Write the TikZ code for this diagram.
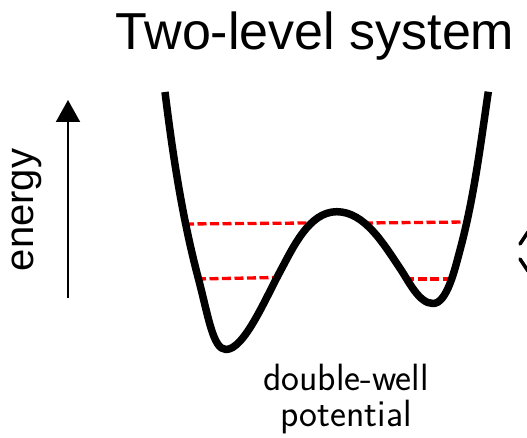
\documentclass[tikz,border=0pt]{standalone}
\usepackage{fontspec}
\newfontfamily\arialf{Liberation Sans}
\usetikzlibrary{arrows.meta}
\begin{document}
\begin{tikzpicture}[x=1pt,y=-1pt,
  level/.style={red, line width=3.3pt, dash pattern=on 9pt off 3.5pt},
  well/.style={black, line width=7.5pt, line join=round},
  axis/.style={black, line width=2pt, -{Triangle[width=24pt,length=22pt]}},
  titletext/.style={font=\arialf\fontsize{52}{60}\selectfont, inner sep=0pt, anchor=base},
  axistext/.style={font=\arialf\fontsize{40}{48}\selectfont, inner sep=0pt, anchor=base, rotate=90},
  captext/.style={font=\sffamily\fontsize{38}{44}\selectfont, inner sep=0pt, anchor=base}]
\useasboundingbox (0,0) rectangle (527,438);
\node[titletext] (title) at (315,50) {Two-level system};
\node[axistext] (energy) at (33,210) {energy};
\coordinate (abot) at (68,298);
\coordinate (atop) at (68,100);
\draw[axis] (abot) -- (atop);
% energy levels
\coordinate (u1) at (185,224);
\coordinate (u2) at (309,223);
\coordinate (u3) at (364,223);
\coordinate (u4) at (467,222);
\coordinate (l1) at (197,279);
\coordinate (l2) at (274,277.5);
\coordinate (l3) at (405,279);
\coordinate (l4) at (452,279);
\draw[level] (u1) -- (u2);
\draw[level] (u3) -- (u4);
\draw[level] (l1) -- (l2);
\draw[level] (l3) -- (l4);
% double-well potential
\draw[well] (165,92) .. controls (172.7,154.5) and (182.2,217.4) .. (198.3,278.3)
  .. controls (208.5,317) and (213,349.5) .. (226,349.5)
  .. controls (244,349.5) and (265,299.5) .. (280,271.7)
  .. controls (293,247.5) and (309.2,211.7) .. (336.7,211.7)
  .. controls (365,211.7) and (384.1,244.9) .. (400,268.3)
  .. controls (409,281.6) and (419,303.5) .. (433,303.5)
  .. controls (447,303.5) and (454.8,269.3) .. (460,250)
  .. controls (473.9,198.3) and (480.5,144.8) .. (488.3,91.7);
\node[captext] (cap1) at (346,390) {double-well};
\node[captext] (cap2) at (346,426) {potential};
% partial shape at right edge
\coordinate (c1) at (520,244);
\coordinate (c2) at (528,232);
\coordinate (c3) at (520,259);
\coordinate (c4) at (528,271);
\draw[line width=3.5pt, line cap=round] (c1) -- (c2);
\draw[line width=3.5pt, line cap=round] (c3) -- (c4);
\end{tikzpicture}
\end{document}
